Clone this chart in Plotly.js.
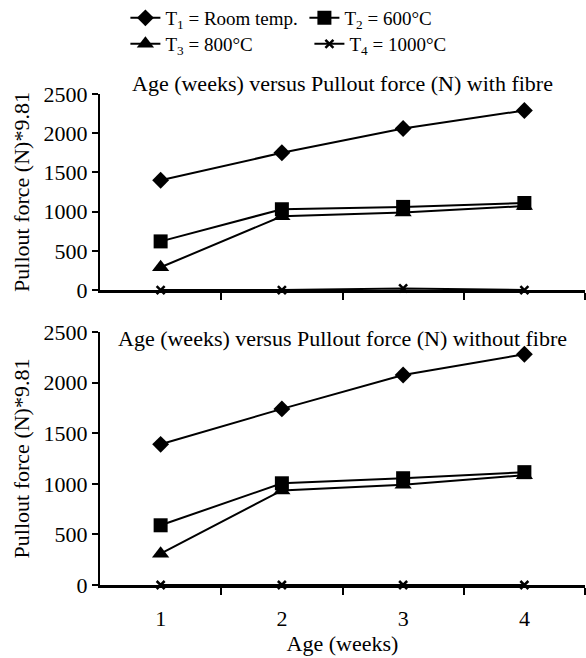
<!DOCTYPE html>
<html>
<head>
<meta charset="utf-8">
<script src="https://cdn.plot.ly/plotly-3.0.1.min.js"></script>
<style>html,body{margin:0;padding:0;background:#fff;}#chart{width:586px;height:658px;}</style>
</head>
<body>
<div id="chart"></div>
<script>
const weeks = [1, 2, 3, 4];
const seriesNames = ["T<sub>1</sub> = Room temp.", "T<sub>2</sub> = 600°C", "T<sub>3</sub> = 800°C", "T<sub>4</sub> = 1000°C"];
const withFibreT1 = [1400, 1750, 2060, 2290];
const withFibreT2 = [620, 1030, 1060, 1110];
const withFibreT3 = [290, 940, 990, 1070];
const withFibreT4 = [0, 0, 20, 0];
const withoutFibreT1 = [1390, 1740, 2075, 2280];
const withoutFibreT2 = [590, 1005, 1055, 1115];
const withoutFibreT3 = [310, 935, 990, 1085];
const withoutFibreT4 = [0, 0, 0, 0];
const titleTop = "Age (weeks) versus Pullout force (N) with fibre";
const titleBottom = "Age (weeks) versus Pullout force (N) without fibre";
const yTitle = "Pullout force (N)*9.81";
const xTitle = "Age (weeks)";

const FONT = "Liberation Serif";
const markers = [
  {symbol: "diamond", size: 13, color: "#000"},
  {symbol: "square", size: 14, color: "#000"},
  {symbol: "triangle-up", size: 15, color: "#000"},
  {symbol: "x-thin", size: 8, color: "#000", line: {color: "#000", width: 2.5}}
];
const legendFor = ["legend", "legend", "legend2", "legend2"];

function mk(idx, ys, xa, ya, show) {
  return {
    x: weeks, y: ys, xaxis: xa, yaxis: ya, type: "scatter", mode: "lines+markers",
    name: seriesNames[idx], legend: legendFor[idx], showlegend: show,
    line: {color: "#000", width: 2}, marker: markers[idx], cliponaxis: false
  };
}
const topSets = [withFibreT1, withFibreT2, withFibreT3, withFibreT4];
const botSets = [withoutFibreT1, withoutFibreT2, withoutFibreT3, withoutFibreT4];
const traces = [];
for (let i = 3; i >= 0; i--) traces.push(mk(i, topSets[i], "x", "y", true));
for (let i = 3; i >= 0; i--) traces.push(mk(i, botSets[i], "x2", "y2", false));

const yBase = {
  range: [0, 2500], tickvals: [0, 500, 1000, 1500, 2000, 2500],
  ticks: "outside", ticklen: 6, tickwidth: 2, tickcolor: "#000",
  showline: true, linecolor: "#000", linewidth: 2, showgrid: false, zeroline: false,
  tickfont: {family: FONT, size: 22, color: "#000"},
  title: {text: yTitle, font: {family: FONT, size: 22, color: "#000"}, standoff: 8}
};
const xBase = {
  range: [0.5, 4.5], tickvals: weeks, ticks: "", showgrid: false, zeroline: false,
  showline: true, linecolor: "#000", linewidth: 3,
  minor: {tickvals: [1.5, 2.5, 3.5, 4.5], ticks: "outside", ticklen: 7, tickwidth: 2, tickcolor: "#000", showgrid: false},
  tickfont: {family: FONT, size: 22, color: "#000"}
};

const layout = {
  width: 586, height: 658,
  margin: {l: 100, r: 1, t: 94, b: 73},
  paper_bgcolor: "#fff", plot_bgcolor: "#fff",
  font: {family: FONT, size: 22, color: "#000"},
  xaxis: Object.assign({}, xBase, {anchor: "y", showticklabels: false}),
  yaxis: Object.assign({}, yBase, {domain: [0.6008, 1], anchor: "x"}),
  xaxis2: Object.assign({}, xBase, {anchor: "y2", showticklabels: true, ticklabelstandoff: 12,
    title: {text: xTitle, font: {family: FONT, size: 22, color: "#000"}, standoff: 2}}),
  yaxis2: Object.assign({}, yBase, {domain: [0, 0.5153], anchor: "x2"}),
  legend: {orientation: "h", xref: "container", yref: "container", x: 0.214, y: 1 - 18/658,
    xanchor: "left", yanchor: "middle", traceorder: "reversed", entrywidth: 134, entrywidthmode: "pixels",
    font: {family: FONT, size: 19, color: "#000"}, bgcolor: "rgba(0,0,0,0)", borderwidth: 0},
  legend2: {orientation: "h", xref: "container", yref: "container", x: 0.214, y: 1 - 44/658,
    xanchor: "left", yanchor: "middle", traceorder: "reversed", entrywidth: 139, entrywidthmode: "pixels",
    font: {family: FONT, size: 19, color: "#000"}, bgcolor: "rgba(0,0,0,0)", borderwidth: 0},
  annotations: [
    {text: titleTop, xref: "paper", yref: "paper", x: 0.5, y: 1.0224, xanchor: "center", yanchor: "middle",
     showarrow: false, font: {family: FONT, size: 22, color: "#000"}},
    {text: titleBottom, xref: "paper", yref: "paper", x: 0.5, y: 0.503, xanchor: "center", yanchor: "middle",
     showarrow: false, font: {family: FONT, size: 22, color: "#000"}}
  ],
  showlegend: true
};
Plotly.newPlot("chart", traces, layout, {displayModeBar: false, staticPlot: true});
</script>
</body>
</html>
